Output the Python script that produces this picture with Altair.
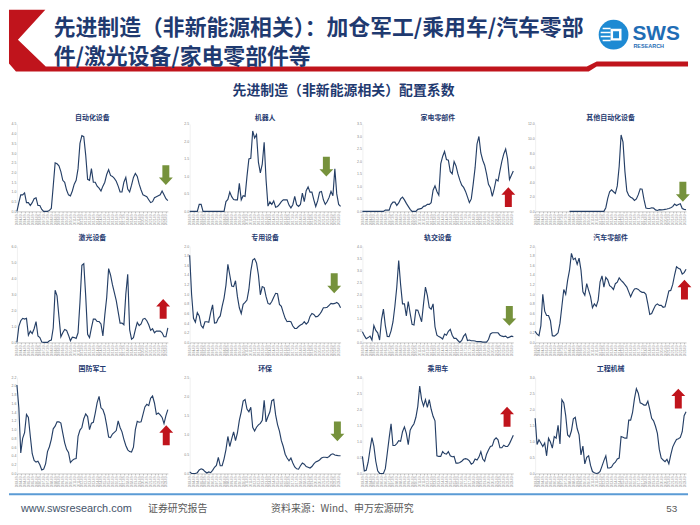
import altair as alt
import pandas as pd

CJK = "Noto Sans CJK SC"
LAT = "Liberation Sans"
NAVY = "#1F3A70"
LINE = "#253F66"
RED = "#C0141C"
GREEN = "#76923C"

# ---------------- data ----------------
QUARTERS = [f"{y}-{m:02d}" for y in range(2003, 2024) for m in (3, 6, 9, 12)][2:82]

auto_equip = [0.0,0.45,0.85,0.85,0.95,0.45,0.45,0.3,0.45,0.65,
              0.7,0.3,0.3,0.1,0.0,0.0,0.0,0.05,0.15,1.3,
              2.5,2.45,2.35,2.05,1.6,1.5,1.1,0.85,0.8,1.05,
              1.4,1.6,2.2,3.5,3.9,3.85,2.9,1.65,1.6,2.2,
              1.5,1.5,1.3,1.2,1.05,1.3,1.5,1.9,2.15,1.85,
              1.8,1.7,1.55,1.3,1.0,1.0,1.5,1.75,1.15,1.0,
              1.35,1.75,1.95,1.8,1.4,1.1,0.85,0.8,0.75,0.6,
              0.45,0.5,0.7,0.75,0.8,0.85,1.05,0.85,0.65,0.55]
robot = [0,0,0,0,0, 0.2,0.2,0,0,0, 0,0,0,0,0, 0,0,0,0,0.28,
         0.34,0.55,0.42,0.34,0.33, 0.33,0.8,0.33,0.45,0.43,
         1.0,1.5,1.52,2.3,2.1, 2.2,1.4,1.1,1.35,1.98,
         0.9,0.15,0.27,0.2,0.3, 0.12,0.14,0.2,0.28,0.33,
         0.33,0.33,0.18,0.1,0.19, 0.43,0.19,0.14,0.2,0.52,
         0.28,0.59,0.7,0.55,0.55, 0.33,0.14,0.3,0.55,0.57,
         0.33,0.2,0.28,0.4,0.57, 0.45,1.22,0.5,0.2,0.14]
appliance_parts = [0,0,0,0,0,0,0,0,0,0,0,0, 0.05,0.05,0.05,
                   0.27,0.37,0.37,0.24,0.34, 0.5,0.57,0.46,0.32,0.2,
                   0.08,0,0,0,0.08, 0.1,0.12,0.2,0.22,0.28,
                   0.28,0.35,0.85,1.02,0.8, 0.65,1.9,2.2,2.4,2.08,
                   2.05,1.6,1.5,2.0,1.82, 1.5,1.25,1.05,0.96,0.8,
                   0.58,0.35,0.5,1.09,1.75, 2.7,3.0,2.34,2.05,1.85,
                   1.5,1.08,0.95,0.6,0.9, 1.28,1.22,1.62,2.0,2.3,
                   2.5,2.1,1.28,1.45,1.62]
other_auto = [None]*18 + [0]*19 + [0.5,
              1.8,2.7,2.95,2.7,2.45, 3.5,6.2,10.5,9.5,5.5,
              2.8,2.2,1.95,1.8,1.5, 1.7,2.3,3.1,3.05,1.6,
              0.45,0.4,0.4,0.5,0.45, 0.2,0.12,0.23,0.2,0.23,
              0.28,0.32,0.4,0.5,0.65, 1.0,0.8,0.95,1.05,0.4,
              0.28,0.23]
laser = [0,1.0,1.35,1.5,1.45, 1.5,0.45,0.7,0.55,0.85,
         1.3,0.4,0.3,0.02,0, 0,0,0.1,0.15,0.9,
         3.25,2.9,1.6,0.35,0.6, 0.8,0.75,0.45,0.1,0.33,
         0.3,0.25,0.6,2.5,4.8, 4.9,2.9,0.5,0.3,0.9,
         1.45,1.45,1.3,1.3,1.15, 0.4,1.7,2.8,4.6,4.2,
         3.6,3.1,2.6,1.9,1.2, 1.2,1.1,3.0,4.25,0.8,
         0.2,0.3,0.8,1.25,1.05, 1.15,1.45,1.5,1.35,1.1,
         0.75,0.85,0.6,0.7,0.7, 0.7,0.6,0.35,0.35,0.9]
special_equip = [1.81,1.0,0.5,0.42,0.62, 0.55,0.35,0.3,0.43,0.43,
                 0.42,0.62,0.78,0.4,0.41, 0.5,0.55,0.75,0.92,1.19,
                 1.62,1.4,1.17,1.16,1.28, 0.95,0.72,0.6,0.79,0.83,
                 0.88,1.1,1.48,1.71,1.74, 1.65,1.4,0.99,1.16,1.14,
                 0.95,0.81,0.79,0.85,0.94, 1.02,1.01,0.79,0.75,0.62,
                 0.5,0.43,0.44,0.43,0.34, 0.29,0.29,0.33,0.36,0.38,
                 0.43,0.38,0.42,0.54,0.6, 0.58,0.53,0.54,0.58,0.64,
                 0.72,0.72,0.73,0.77,0.81, 0.8,0.81,0.83,0.8,0.72]
rail = [0.44,0.28,0.15,0.2,0.26, 0.1,0.7,0.5,0.4,0.1,
        0.95,1.38,0.7,0.25,0.24, 0.48,0.85,1.5,2.3,3.4,
        2.4,1.6,1.6,1.1,1.7, 1.2,0.75,0.72,1.35,1.34,
        1.1,0.86,1.6,2.3,1.95, 1.45,1.38,1.6,0.65,0.3,
        0.24,0.2,0.14,0.35,0.3, 0.46,0.54,0.3,0.17,0.17,
        0.08,0,0.08,0.26,0.35, 0.08,0.1,0.07,0.07,0.06,
        0.03,0.03,0.03,0.01,0.01, 0.01,0.12,0.35,0.4,0.4,
        0.4,0.4,0.3,0.26,0.24, 0.26,0.19,0.22,0.26,0.24]
auto_parts = [0.23,0.17,0.14,0.35,1.0, 0.65,0.56,0.56,0.45,0.14,
              0.13,0.16,0.2,0.4,0.75, 1.1,1.0,1.29,1.5,1.85,
              1.72,1.75,1.62,1.75,1.5, 1.05,0.98,1.22,1.08,0.95,
              0.72,0.8,0.75,0.88,1.26, 1.38,1.15,1.35,1.3,1.18,
              1.15,1.1,1.22,1.25,1.34, 1.29,1.25,1.2,1.15,1.05,
              0.95,1.04,1.11,1.12,1.1, 1.06,1.04,1.04,1.0,0.8,
              0.58,0.6,0.69,0.77,0.8, 0.77,0.77,0.73,0.74,0.9,
              1.07,1.08,1.2,1.4,1.57, 1.54,1.52,1.42,1.45,1.52]
defense = [2.02,1.5,0.47,0.8,0.93, 1.35,1.28,0.85,0.45,0.3,
           0.26,0.28,0.2,0.08,0.1, 0.22,0.5,0.61,0.78,1.02,
           1.08,1.18,1.18,1.15,0.92, 0.7,0.55,0.48,0.25,0.3,
           0.33,0.34,0.85,0.99,1.05, 1.25,1.36,1.3,1.0,1.15,
           1.17,1.38,1.62,1.76,1.5, 1.46,1.33,1.1,0.83,0.82,
           0.9,0.94,0.98,1.2,1.05, 0.95,0.78,0.64,0.54,0.5,
           0.49,0.6,1.0,1.19,1.17, 1.18,1.35,1.52,1.58,1.55,
           1.72,1.77,1.61,1.35,1.38, 1.34,1.28,1.14,1.32,1.46]
environment = [0.04,0,0,0,0.02, 0.09,0.12,0.1,0.05,0.01,
               0.04,0.02,0.08,0.16,0.21, 0.42,0.2,0.2,0.38,0.62,
               0.96,0.7,0.9,1.08,0.85, 1.05,1.38,1.6,1.88,1.92,
               1.67,1.6,1.72,1.2,1.1, 1.2,1.26,1.3,1.38,1.9,
               1.34,1.48,1.6,1.89,1.92, 1.52,1.27,1.1,0.85,0.7,
               0.5,0.4,0.33,0.4,0.27, 0.17,0.12,0.11,0.2,0.27,
               0.24,0.18,0.16,0.14,0.18, 0.25,0.3,0.32,0.35,0.4,
               0.42,0.42,0.41,0.44,0.49, 0.51,0.48,0.47,0.46,0.46]
passenger_car = [0.53,0.08,0.1,0.35,0.75, 1.12,0.85,0.38,0.08,0,
                 0,0,0.15,0.62,1.1, 1.55,0.87,0.87,0.93,1.02,
                 1.0,1.3,1.45,1.25,0.9, 1.35,1.46,1.55,1.75,2.09,
                 2.72,2.3,2.1,2.3,2.06, 2.3,2.0,1.78,1.64,0.55,
                 0.53,0.53,0.68,0.62,0.6, 0.68,0.55,0.52,0.53,0.32,
                 0.32,0.34,0.38,0.44,0.46, 0.44,0.39,0.29,0.33,0.45,
                 0.42,0.51,0.68,0.45,0.38, 0.6,0.73,0.84,0.86,1.05,
                 1.11,1.05,0.8,0.8,0.88, 0.84,0.84,0.93,1.06,1.19]
machinery = [1.72,0.9,1.05,0.95,0.84, 0.95,0.55,1.1,0.98,0.79,
             1.15,1.1,1.5,0.92,2.3, 2.2,1.8,1.2,1.14,1.33,
             1.7,1.75,1.4,1.2,0.58, 0.85,0.3,0.5,0.55,0.25,
             0.06,0.02,0,0.01,0.06, 0.23,0.4,0.55,0.17,0.17,
             0.2,0.3,0.35,0.45,0.48, 1.15,1.13,1.1,1.1,1.66,
             1.66,1.9,2.33,2.64,2.5, 2.2,2.17,2.13,2.13,2.25,
             2.0,1.72,1.64,1.47,1.25, 0.75,0.48,0.42,0.37,0.44,
             0.3,0.58,0.82,0.95,1.06, 1.08,1.12,1.3,1.8,1.92]

TITLES = ["自动化设备", "机器人", "家电零部件", "其他自动化设备",
          "激光设备", "专用设备", "轨交设备", "汽车零部件",
          "国防军工", "环保", "乘用车", "工程机械"]
SERIES = [auto_equip, robot, appliance_parts, other_auto,
          laser, special_equip, rail, auto_parts,
          defense, environment, passenger_car, machinery]
Y_MAX = [4.5, 2.5, 3.5, 12, 6, 2.0, 4, 2.0, 2.2, 2.5, 3.0, 3.0]
Y_STEP = [0.5, 0.5, 0.5, 2, 1, 0.2, 0.5, 0.2, 0.2, 0.5, 0.5, 0.5]
SIGNAL = ["down", "down", "up", "down", "up", "down", "down", "up", "up", "down", "up", "up"]

# ---------------- layout / style ----------------
PW = 152
ROW_H = [88, 97, 97]
TITLE_DY = [-6, -8, -8]
ARROW_POS = [(150, 51.5), (137.7, 43), (147, 73.7), (148.8, 68.2),
             (147.3, 63.2), (145.6, 37.4), (148, 70.3), (150.4, 43.9),
             (150.4, 58.5), (148.8, 54.6), (145.7, 39.9), (144.2, 21.6)]
UP = "M-3.5,10L-3.5,-2.5L-7,-2.5L0,-10L7,-2.5L3.5,-2.5L3.5,10Z"
DOWN = "M-3.5,-10L-3.5,2.5L-7,2.5L0,10L7,2.5L3.5,2.5L3.5,-10Z"

one = pd.DataFrame({"k": [0]})


def deco(shape, color, x, y, size=4):
    return alt.Chart(one).mark_point(shape=shape, size=size, filled=True, color=color,
                                     opacity=1, strokeWidth=0).encode(x=alt.value(x), y=alt.value(y))


def label(text, x, y, size, color, weight="normal", align="left", font=CJK):
    return alt.Chart(one).mark_text(text=text, align=align, baseline="middle", fontSize=size,
                                    fontWeight=weight, color=color, font=font).encode(
        x=alt.value(x), y=alt.value(y))


# header (drawn in the first panel's frame; its top sits 115px above that plot)
HY = -115
CHEVRON = ("M-8,0L28.6,0L1,30L29,57L574,57L584,52L676,52L676,57L584,57"
           "L576,62L-1,62L-8,54.1Z")
STRIPES = "M-11,-7h8v1.6h-8zM-13,-3h10v1.6h-10zM-13,1h10v1.6h-10zM-11,5h8v1.6h-8z"
FRAME = "M-3,-6H8V6H-3ZM-0.5,-3.5V3.5H5.5V-3.5Z"
header_layers = [
    deco(CHEVRON, RED, 0, HY),
    label("先进制造（非新能源相关）：加仓军工/乘用车/汽车零部", 37, HY + 18.5, 22, NAVY, "bold"),
    label("件/激光设备/家电零部件等", 37, HY + 48, 22, NAVY, "bold"),
    deco("circle", "#1E8AD3", 601, HY + 25, size=900),
    deco(STRIPES, "white", 601, HY + 25),
    deco(FRAME, "white", 601, HY + 25),
    label("SWS", 620, HY + 24, 21, "#1F6DB5", "bold", font=LAT),
    label("RESEARCH", 621, HY + 36, 5.5, "#1F6DB5", "bold", font=LAT),
    label("先进制造（非新能源相关）配置系数", 329, HY + 82, 14, NAVY, "bold", align="center"),
]

# footer (drawn in the first panel of the last row; footer origin is 132px below that plot)
FY = 132
footer_layers = [
    alt.Chart(one).mark_rule(color="#5B9BD5", strokeWidth=2).encode(
        x=alt.value(-8), x2=alt.value(676), y=alt.value(FY - 14)),
    label("www.swsresearch.com", 4, FY + 1, 11, "#44546A", font=LAT),
    label("证券研究报告", 132, FY + 1, 10, "#595959"),
    label("资料来源：Wind、申万宏源研究", 256, FY + 1, 10, "#595959"),
    label("53", 654, FY + 1, 10, "#595959", font=LAT),
]


def panel(i, h, extra=()):
    df = pd.DataFrame({"date": QUARTERS, "v": SERIES[i]})
    n = int(round(Y_MAX[i] / Y_STEP[i]))
    ticks = [round(k * Y_STEP[i], 2) for k in range(n + 1)]
    line = alt.Chart(df).mark_line(color=LINE, strokeWidth=1.15).encode(
        x=alt.X("date:O", title=None, scale=alt.Scale(domain=QUARTERS, padding=0),
                axis=alt.Axis(values=QUARTERS[::2], labelAngle=270, labelFontSize=3,
                              labelFont=LAT, labelColor="#7F7F7F", tickSize=1.5,
                              tickColor="#BFBFBF", domainColor="#A6A6A6", domainWidth=0.6,
                              labelPadding=1, labelOverlap=False, grid=False,
                              minExtent=12, maxExtent=12)),
        y=alt.Y("v:Q", title=None, scale=alt.Scale(domain=[0, Y_MAX[i]], nice=False),
                axis=alt.Axis(values=ticks, format=".1f", labelFontSize=3.5, labelFont=LAT,
                              labelColor="#7F7F7F", ticks=False, domainColor="#E0E0E0",
                              domainWidth=0.5, labelPadding=1, grid=False,
                              minExtent=8, maxExtent=8)),
    )
    ax, ay = ARROW_POS[i]
    up = SIGNAL[i] == "up"
    arrow = deco(UP if up else DOWN, RED if up else GREEN, ax, ay)
    title = label(TITLES[i], PW / 2, TITLE_DY[i // 4], 7, NAVY, "bold", align="center")
    return alt.layer(line, arrow, title, *extra).properties(width=PW, height=h)


panels = []
for i in range(12):
    extra = header_layers if i == 0 else (footer_layers if i == 8 else ())
    panels.append(panel(i, ROW_H[i // 4], extra))

chart = alt.concat(*panels, columns=4, bounds="flush", padding=0,
                   spacing=alt.RowColnumber(row=35, column=22)).configure_view(stroke=None)

chart.save("out.html", embed_options={"renderer": "svg", "actions": False})
